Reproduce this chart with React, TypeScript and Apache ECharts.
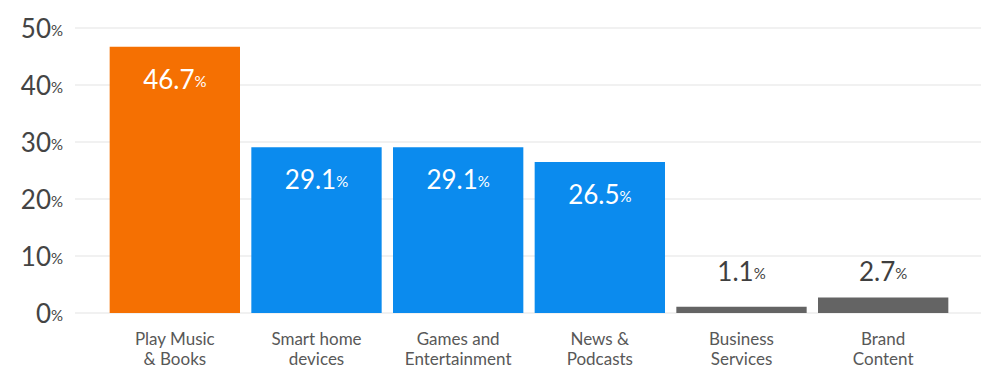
import React, { useEffect, useRef } from "react";
import * as echarts from "echarts";

const categories = [
  "Play Music\n& Books",
  "Smart home\ndevices",
  "Games and\nEntertainment",
  "News &\nPodcasts",
  "Business\nServices",
  "Brand\nContent",
];
const values = [46.7, 29.1, 29.1, 26.5, 1.1, 2.7];
const barColors = ["#F57002", "#0B8BEE", "#0B8BEE", "#0B8BEE", "#646464", "#646464"];
const yTicks = { min: 0, max: 50, interval: 10 };

const FONT = "Lato";

export default function App() {
  const ref = useRef<HTMLDivElement>(null);
  useEffect(() => {
    document.body.style.margin = "0";
    const chart = echarts.init(ref.current!, null, { renderer: "svg" });
    const data = values.map((v, i) => {
      const inside = v > 10;
      return {
        value: v,
        itemStyle: { color: barColors[i] },
        label: inside
          ? { position: "insideTop", distance: 19, color: "#fff" }
          : { position: "top", distance: i === 4 ? 23 : 14, color: "#3f3f3f" },
      };
    });
    chart.setOption({
      animation: false,
      textStyle: { fontFamily: FONT },
      grid: [
        { left: 75, right: 0, top: 28, bottom: 56 },
        { left: 104, right: 27, top: 28, bottom: 56 },
      ],
      xAxis: [
        { type: "category", gridIndex: 0, data: categories, show: false },
        {
          type: "category",
          gridIndex: 1,
          data: categories,
          axisLine: { show: false },
          axisTick: { show: false },
          axisLabel: {
            color: "#585858",
            fontSize: 17,
            lineHeight: 20,
            margin: 15,
            fontFamily: FONT,
          },
        },
      ],
      yAxis: [
        {
          type: "value",
          gridIndex: 0,
          ...yTicks,
          axisLine: { show: false },
          axisTick: { show: false },
          splitLine: { lineStyle: { color: "#ececec", width: 1.5 } },
          axisLabel: {
            margin: 12,
            formatter: (v: number) => `{n|${v}}{p|%}`,
            rich: {
              n: { fontSize: 26, color: "#444", fontFamily: FONT },
              p: { fontSize: 15, color: "#444", fontFamily: FONT, padding: [4, 0, 0, 0] },
            },
          },
        },
        {
          type: "value",
          gridIndex: 1,
          ...yTicks,
          show: false,
          splitLine: { show: false },
        },
      ],
      series: [
        {
          type: "bar",
          xAxisIndex: 1,
          yAxisIndex: 1,
          barCategoryGap: "8%",
          data,
          label: {
            show: true,
            formatter: (p: any) => `{n|${p.value}}{p|%}`,
            rich: {
              n: { fontSize: 26, fontFamily: FONT },
              p: { fontSize: 15, fontFamily: FONT, padding: [4, 0, 0, 0] },
            },
          },
        },
      ],
    });
    return () => chart.dispose();
  }, []);
  return <div ref={ref} style={{ width: 981, height: 369 }} />;
}
